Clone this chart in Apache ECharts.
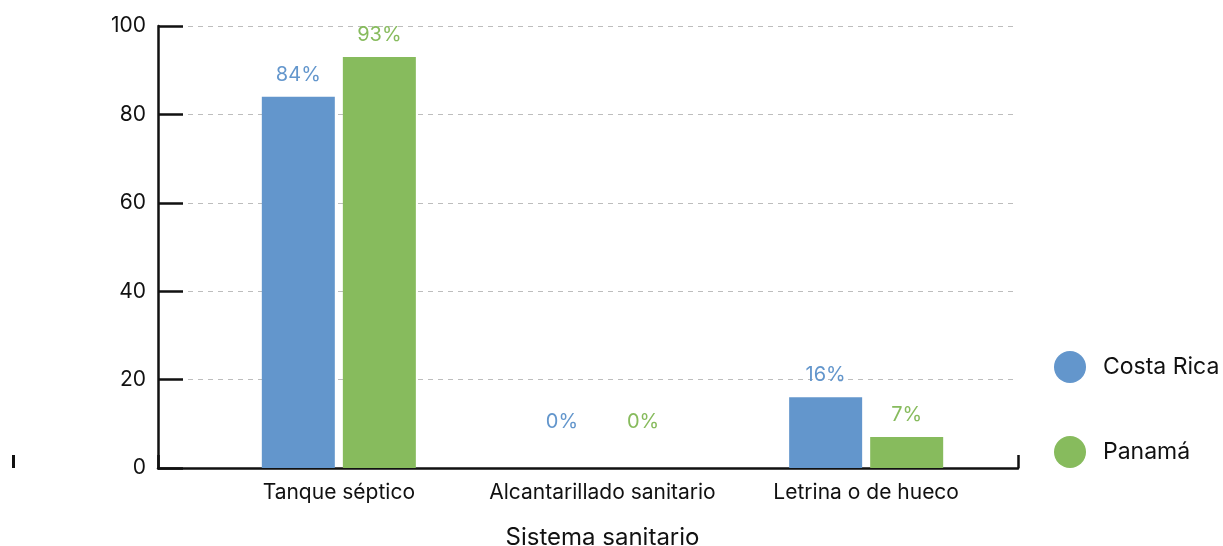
<!DOCTYPE html>
<html>
<head>
<meta charset="utf-8">
<script src="https://cdn.jsdelivr.net/npm/echarts@6/dist/echarts.min.js"></script>
<style>
  html, body { margin: 0; padding: 0; background: #fff; }
  #chart { width: 1223px; height: 546px; }
</style>
</head>
<body>
<div id="chart"></div>
<script>
var categories = ['Tanque séptico', 'Alcantarillado sanitario', 'Letrina o de hueco'];
var costaRica = [84, 0, 16];
var panama = [93, 0, 7];
var seriesNames = ['Costa Rica', 'Panamá'];
var yTicks = [0, 20, 40, 60, 80, 100];

var BLUE = '#6396cc';
var GREEN = '#87bb5d';
var FONT = 'Inter, "Noto Sans", sans-serif';

// zero values get their label lifted a bit, like the original
function toData(arr) {
    return arr.map(function (v) {
        if (v === 0) {
            return { value: v, label: { offset: [0, -24] } };
        }
        return v;
    });
}

var chart = echarts.init(document.getElementById('chart'));

chart.setOption({
    animation: false,
    textStyle: { fontFamily: FONT },
    grid: [
        { left: 158, right: 205, top: 26, bottom: 78, outerBoundsMode: 'none' },
        { left: 207, right: 225, top: 26, bottom: 78, outerBoundsMode: 'none' }
    ],
    legend: {
        data: seriesNames,
        orient: 'vertical',
        left: 1049,
        top: 346,
        icon: 'circle',
        itemWidth: 32,
        itemHeight: 32,
        itemGap: 53,
        textStyle: { fontSize: 23, color: '#111', fontFamily: FONT, padding: [0, 0, 0, 12] }
    },
    xAxis: [
        {
            gridIndex: 0,
            type: 'value',
            min: 0,
            max: 1,
            interval: 1,
            axisLine: { show: true, lineStyle: { color: '#111', width: 2.5 } },
            axisTick: { show: true, inside: true, length: 13, lineStyle: { color: '#111', width: 2.5 } },
            axisLabel: { show: false },
            splitLine: { show: false }
        },
        {
            gridIndex: 1,
            type: 'category',
            data: categories,
            axisLine: { show: false },
            axisTick: { show: false },
            axisLabel: { interval: 0, color: '#111', fontSize: 21, margin: 14, fontFamily: FONT },
            name: 'Sistema sanitario',
            nameLocation: 'middle',
            nameGap: 58,
            nameTextStyle: { color: '#111', fontSize: 24, fontFamily: FONT }
        }
    ],
    yAxis: [
        {
            gridIndex: 0,
            type: 'value',
            min: yTicks[0],
            max: yTicks[yTicks.length - 1],
            interval: 20,
            axisLine: { show: true, lineStyle: { color: '#111', width: 2.5 } },
            axisTick: { show: true, inside: true, length: 25, lineStyle: { color: '#111', width: 2.5 } },
            axisLabel: { color: '#111', fontSize: 21, margin: 12, fontFamily: FONT },
            splitLine: { show: true, lineStyle: { color: '#bdbdbd', type: [5, 5], width: 1 } }
        },
        {
            gridIndex: 1,
            type: 'value',
            min: yTicks[0],
            max: yTicks[yTicks.length - 1],
            show: false
        }
    ],
    series: [
        {
            name: seriesNames[0],
            type: 'bar',
            xAxisIndex: 1,
            yAxisIndex: 1,
            data: toData(costaRica),
            barWidth: 73,
            barGap: '11%',
            itemStyle: { color: BLUE },
            label: {
                show: true,
                position: 'top',
                distance: 12,
                formatter: '{c}%',
                color: BLUE,
                fontSize: 20,
                fontFamily: FONT
            }
        },
        {
            name: seriesNames[1],
            type: 'bar',
            xAxisIndex: 1,
            yAxisIndex: 1,
            data: toData(panama),
            barWidth: 73,
            barGap: '11%',
            itemStyle: { color: GREEN },
            label: {
                show: true,
                position: 'top',
                distance: 12,
                formatter: '{c}%',
                color: GREEN,
                fontSize: 20,
                fontFamily: FONT
            }
        }
    ],
    graphic: [
        { type: 'rect', left: 12, top: 455, shape: { width: 3, height: 13 }, style: { fill: '#111' } }
    ]
});
</script>
</body>
</html>
